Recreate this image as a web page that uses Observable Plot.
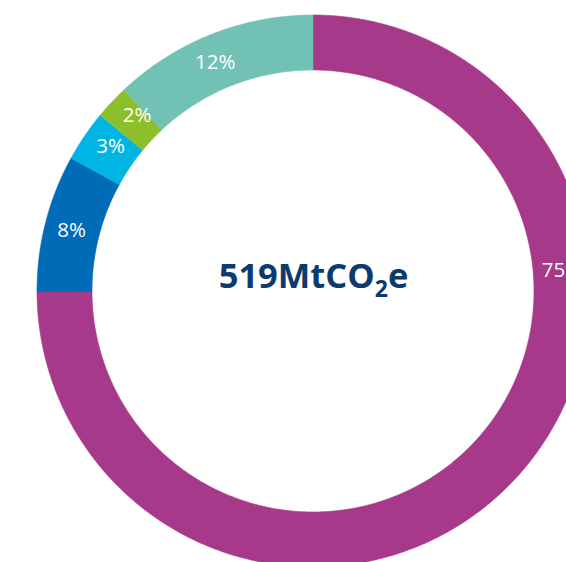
<!DOCTYPE html>
<html><head><meta charset="utf-8">
<script src="https://cdn.jsdelivr.net/npm/d3@7"></script>
<script src="https://cdn.jsdelivr.net/npm/@observablehq/plot@0.6"></script>
<style>
html,body{margin:0;padding:0;background:#fff;}
#chart svg{display:block;overflow:hidden;}
</style>
</head><body><div id="chart"></div>
<script>
// ---- data ----
const segments = ["Segment A", "Segment B", "Segment C", "Segment D", "Segment E"];
const shares = [75, 8, 3, 2, 12];
const shareLabels = ["75%", "8%", "3%", "2%", "12%"];
const segmentColors = ["#a7398b", "#006bb6", "#00b4e3", "#8cbf2a", "#71c2b4"];
const labelPlacement = [0.315, 0.49, 0.62, 0.75, 0.463]; // where along each arc the label sits
const totalParts = ["519MtCO", "2", "e"];

// ---- layout ----
const W = 566, H = 562;
const cx = 313, cy = 291, R = 276;
const inner = 221 / 276;
const mid = (1 + inner) / 2 + 0.003;
const font = "'Open Sans', 'Segoe UI', sans-serif";

// ---- geometry from data ----
const total = d3.sum(shares);
let acc = 0;
const ring = [];
const labels = [];
segments.forEach((s, i) => {
  const a0 = acc / total * 2 * Math.PI;
  acc += shares[i];
  const a1 = acc / total * 2 * Math.PI;
  const n = Math.max(4, Math.ceil((a1 - a0) / (Math.PI / 360)));
  for (let k = 0; k <= n; k++) {
    const a = a0 + (a1 - a0) * k / n;
    ring.push({seg: s, x1: inner * Math.sin(a), y1: inner * Math.cos(a), x2: Math.sin(a), y2: Math.cos(a)});
  }
  const am = a0 + (a1 - a0) * labelPlacement[i];
  labels.push({seg: s, x: mid * Math.sin(am), y: mid * Math.cos(am), text: shareLabels[i]});
});

const chart = Plot.plot({
  width: W, height: H,
  margin: 0,
  x: {domain: [-cx / R, (W - cx) / R], axis: null},
  y: {domain: [-(H - cy) / R, cy / R], axis: null},
  color: {domain: segments, range: segmentColors},
  style: {fontFamily: font, background: "#fff"},
  marks: [
    Plot.area(ring, {x1: "x1", y1: "y1", x2: "x2", y2: "y2", z: "seg", fill: "seg", stroke: "seg", strokeWidth: 0.6, curve: "linear"}),
    Plot.text(labels, {x: "x", y: "y", text: "text", fill: "white", fontSize: 20.5, fontFamily: font}),
    Plot.text([{x: 0, y: 0, t: totalParts.join("")}], {x: "x", y: "y", text: "t", dy: -15, fill: "#0d3b6d", fontSize: 34.5, fontWeight: "bold", fontFamily: font})
  ]
});

// subscript for CO2
chart.querySelectorAll("text").forEach(t => {
  if (t.textContent === totalParts.join("")) {
    const ns = "http://www.w3.org/2000/svg";
    t.textContent = "";
    const a = document.createElementNS(ns, "tspan"); a.textContent = totalParts[0];
    const b = document.createElementNS(ns, "tspan"); b.textContent = totalParts[1];
    b.setAttribute("font-size", "23"); b.setAttribute("dy", "9");
    const c = document.createElementNS(ns, "tspan"); c.textContent = totalParts[2];
    c.setAttribute("dy", "-9");
    t.append(a, b, c);
  }
});
document.getElementById("chart").append(chart);
</script>
</body></html>
